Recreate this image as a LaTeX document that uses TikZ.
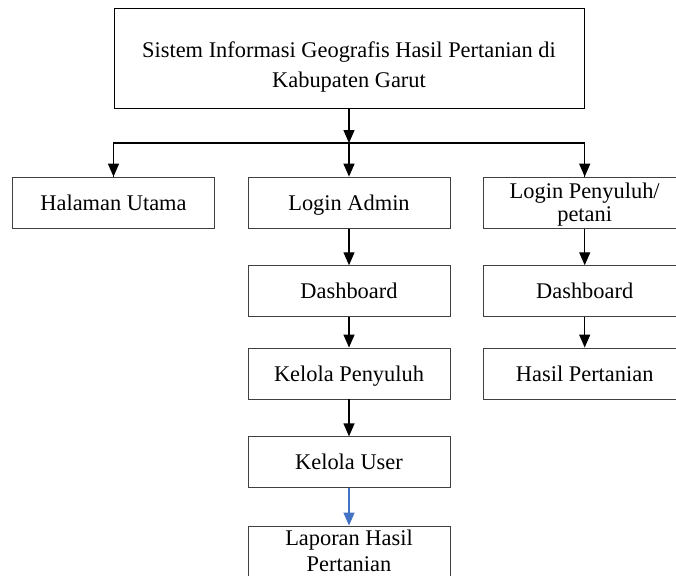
\documentclass[tikz,border=0pt]{standalone}
\usepackage{fontspec}
\usetikzlibrary{arrows.meta}
\newfontfamily\tnrfont{Liberation Serif}
\newcommand\myfont{\fontsize{22.4}{26}\selectfont\tnrfont}
\definecolor{boxc}{HTML}{404040}
\definecolor{bluearr}{HTML}{4472C4}
\tikzset{
  box/.style={draw=boxc, line width=0.9pt, minimum width=202pt, minimum height=51pt, inner sep=0pt, font=\myfont, text height=15.3pt, text depth=0pt},
  lbl/.style={anchor=base, inner sep=0pt, font=\myfont},
  arr/.style={-{Triangle[length=13pt,width=11pt]}, line width=1.3pt, black},
}
\begin{document}
\begin{tikzpicture}[x=1pt,y=-1pt]
\useasboundingbox (0,0) rectangle (676,575);
\clip (0,0) rectangle (676,575);
\fill[white] (0,0) rectangle (676,575);
% top box
\node[box, draw=black, minimum width=470pt, minimum height=100pt] (top) at (349,58) {};
\node[lbl] (topA) at (349,58) {Sistem Informasi Geografis Hasil Pertanian di};
\node[lbl] (topB) at (349,88) {Kabupaten Garut};
% row 1
\node[box] (hal) at (113.5,202.6) {Halaman Utama};
\node[box] (adm) at (349,202.6) {Login Admin};
\node[box] (pen) at (584.7,202.6) {};
\node[lbl] (penA) at (584.7,198.3) {Login Penyuluh/};
\node[lbl] (penB) at (584.7,221.7) {petani};
% admin column
\node[box] (dash1) at (349,291.2) {Dashboard};
\node[box] (kp) at (349,373.5) {Kelola Penyuluh};
\node[box] (ku) at (349,462.3) {Kelola User};
\node[box] (lap) at (349,551.5) {};
\node[lbl] (lapA) at (349,545.7) {Laporan Hasil};
\node[lbl] (lapB) at (349,571.5) {Pertanian};
% right column
\node[box] (dash2) at (584.7,291.2) {Dashboard};
\node[box] (hp) at (584.7,373.5) {Hasil Pertanian};
% connectors
\coordinate (split) at (349,143);
\draw[arr] (top.south) -- (split);
\draw[line width=1.3pt] (split) -| (hal.north);
\draw[line width=1.3pt] (split) -| (pen.north);
\draw[arr] (split) -| (hal.north);
\draw[arr] (split) -- (adm.north);
\draw[arr] (split) -| (pen.north);
\draw[arr] (adm.south) -- (dash1.north);
\draw[arr] (dash1.south) -- (kp.north);
\draw[arr] (kp.south) -- (ku.north);
\draw[arr, bluearr] (ku.south) -- (lap.north);
\draw[arr] (pen.south) -- (dash2.north);
\draw[arr] (dash2.south) -- (hp.north);
\end{tikzpicture}
\end{document}
